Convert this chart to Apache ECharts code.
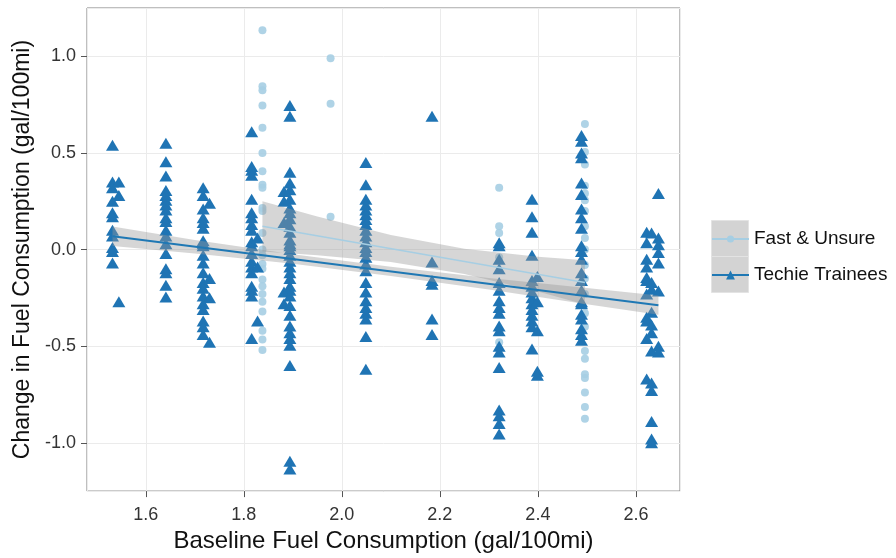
<!DOCTYPE html>
<html>
<head>
<meta charset="utf-8">
<script src="https://cdn.jsdelivr.net/npm/echarts@6/dist/echarts.min.js"></script>
<style>
  html, body { margin: 0; padding: 0; background: #fff; }
  #chart { width: 896px; height: 558px; }
</style>
</head>
<body>
<div id="chart"></div>
<script>
  // baseline fuel consumption columns and the change values
  const techieX = [1.532, 1.545, 1.641, 1.717, 1.73, 1.816, 1.828, 1.882, 1.894, 2.049, 2.184, 2.321, 2.388, 2.399, 2.489, 2.622, 2.632, 2.646]
  const techieY = [
    [0.54, 0.35, 0.32, 0.25, 0.19, 0.17, 0.10, 0.07, 0.01, -0.01, -0.07],
    [0.35, 0.28, -0.27],
    [0.55, 0.455, 0.38, 0.305, 0.28, 0.255, 0.23, 0.205, 0.165, 0.145, 0.10, 0.07, 0.03, -0.02, -0.10, -0.12, -0.185, -0.245],
    [0.32, 0.28, 0.21, 0.165, 0.14, 0.11, 0.045, 0.02, 0.03, -0.03, -0.07, -0.12, -0.17, -0.20, -0.24, -0.28, -0.31, -0.37, -0.40, -0.44],
    [0.24, -0.15, -0.25, -0.48],
    [0.61, 0.43, 0.41, 0.385, 0.26, 0.19, 0.165, 0.13, 0.10, 0.04, 0.02, -0.02, -0.06, -0.09, -0.12, -0.19, -0.21, -0.24, -0.46],
    [0.06, -0.09, -0.37],
    [0.30, 0.25, 0.14, -0.22, -0.28],
    [0.746, 0.69, 0.40, 0.345, 0.31, 0.26, 0.215, 0.19, 0.16, 0.12, 0.09, 0.05, 0.02, 0.03, 0.00, -0.03, -0.06, -0.09, -0.12, -0.15, -0.19, -0.21, -0.24, -0.29, -0.34, -0.395, -0.43, -0.46, -0.495, -0.60, -1.095, -1.135],
    [0.45, 0.335, 0.26, 0.23, 0.205, 0.18, 0.155, 0.13, 0.10, 0.07, 0.04, 0.01, -0.01, -0.04, -0.075, -0.11, -0.17, -0.22, -0.265, -0.30, -0.33, -0.36, -0.45, -0.62],
    [0.69, -0.065, -0.16, -0.18, -0.36, -0.44],
    [0.02, 0.035, -0.05, -0.10, -0.17, -0.21, -0.265, -0.30, -0.33, -0.395, -0.42, -0.50, -0.53, -0.61, -0.83, -0.86, -0.90, -0.955],
    [0.26, 0.17, 0.09, -0.03, -0.16, -0.19, -0.22, -0.25, -0.28, -0.31, -0.34, -0.37, -0.40, -0.515],
    [-0.14, -0.27, -0.42, -0.63, -0.65],
    [0.59, 0.56, 0.50, 0.475, 0.345, 0.285, 0.21, 0.165, 0.11, 0.02, -0.01, -0.05, -0.12, -0.16, -0.21, -0.27, -0.28, -0.335, -0.36, -0.41, -0.44, -0.47],
    [0.09, 0.035, -0.05, -0.09, -0.145, -0.16, -0.23, -0.35, -0.37, -0.46, -0.67],
    [0.085, -0.17, -0.205, -0.325, -0.39, -0.43, -0.525, -0.69, -0.73, -0.89, -0.98, -1.0],
    [0.29, 0.06, 0.025, -0.015, -0.07, -0.215, -0.50, -0.53]
  ]

  const fastX = [1.838, 1.977, 2.321, 2.496]
  const fastY = [
    [1.135, 0.845, 0.825, 0.745, 0.63, 0.50, 0.405, 0.335, 0.32, 0.215, 0.20, 0.085, 0.0, -0.03, -0.075, -0.10, -0.155, -0.19, -0.23, -0.27, -0.32, -0.42, -0.465, -0.52],
    [0.99, 0.755, 0.17],
    [0.32, 0.12, 0.085, -0.04, -0.48],
    [0.65, 0.505, 0.44, 0.33, 0.29, 0.255, 0.20, 0.12, 0.06, 0.0, -0.08, -0.15, -0.23, -0.33, -0.40, -0.525, -0.565, -0.645, -0.665, -0.74, -0.815, -0.875]
  ]

  // fitted lines and their confidence bands
  const techieLineX = [1.532, 2.646]
  const techieLineY = [0.069, -0.288]
  const techieBandX = [1.532, 1.7, 1.9, 2.1, 2.3, 2.5, 2.646]
  const techieUpper = [0.119, 0.050, -0.024, -0.089, -0.147, -0.199, -0.238]
  const techieLower = [0.019, -0.020, -0.074, -0.137, -0.207, -0.283, -0.338]

  const fastLineX = [1.838, 2.496]
  const fastLineY = [0.12, -0.17]
  const fastBandX = [1.838, 1.95, 2.1, 2.25, 2.4, 2.496]
  const fastUpper = [0.25, 0.171, 0.075, 0.004, -0.037, -0.055]
  const fastLower = [-0.01, -0.029, -0.065, -0.126, -0.217, -0.285]

  const FONT = "'Liberation Sans', Arial, sans-serif"

  const toPoints = (xs, ys) => xs.flatMap((x, i) => ys[i].map(y => [x, y]))
  const zipLine = (xs, ys) => xs.map((x, i) => [x, ys[i]])

  const bandSeries = (xs, lo, hi) => ({
    type: 'custom',
    silent: true,
    z: 3,
    data: xs.map((x, i) => [x, lo[i], hi[i]]),
    renderItem: (params, api) => {
      if (params.dataIndex !== 0) return null
      const top = xs.map((x, i) => api.coord([x, hi[i]]))
      const bottom = xs.map((x, i) => api.coord([x, lo[i]])).reverse()
      return {
        type: 'polygon',
        shape: { points: top.concat(bottom) },
        style: { fill: 'rgba(153,153,153,0.4)' }
      }
    }
  })

  const legendText = { fontFamily: FONT, fontSize: 19, color: '#111', lineHeight: 22 }

  const chart = echarts.init(document.getElementById('chart'))

  const option = {
    animation: false,
    grid: {
      left: 87,
      top: 8,
      right: 216,
      bottom: 66,
      show: true,
      borderColor: '#7f7f7f',
      borderWidth: 1,
      backgroundColor: '#fff'
    },
    xAxis: {
      type: 'value',
      min: 1.48,
      max: 2.69,
      splitNumber: 6,
      name: 'Baseline Fuel Consumption (gal/100mi)',
      nameLocation: 'middle',
      nameGap: 37,
      nameTextStyle: { fontFamily: FONT, fontSize: 24, color: '#111' },
      axisLine: { show: false, onZero: false },
      axisTick: { show: true, length: 6, lineStyle: { color: '#555' } },
      axisLabel: {
        fontFamily: FONT,
        fontSize: 18,
        color: '#333',
        margin: 15,
        showMinLabel: false,
        showMaxLabel: false,
        formatter: v => v.toFixed(1)
      },
      splitLine: { show: true, lineStyle: { color: '#ebebeb' } }
    },
    yAxis: {
      type: 'value',
      min: -1.25,
      max: 1.25,
      splitNumber: 5,
      name: 'Change in Fuel Consumption (gal/100mi)',
      nameLocation: 'middle',
      nameRotate: 90,
      nameGap: 53,
      nameTextStyle: { fontFamily: FONT, fontSize: 23, color: '#111' },
      axisLine: { show: false, onZero: false },
      axisTick: { show: true, length: 6, lineStyle: { color: '#555' } },
      axisLabel: {
        fontFamily: FONT,
        fontSize: 18,
        color: '#333',
        margin: 11,
        showMinLabel: false,
        showMaxLabel: false,
        formatter: v => v.toFixed(1)
      },
      splitLine: { show: true, lineStyle: { color: '#ebebeb' } }
    },
    legend: [
      {
        data: ['Fast & Unsure'],
        left: 711,
        top: 228,
        padding: 0,
        itemWidth: 37,
        itemHeight: 9,
        itemGap: 0,
        textStyle: legendText
      },
      {
        data: ['Techie Trainees'],
        left: 711,
        top: 264,
        padding: 0,
        itemWidth: 37,
        itemHeight: 11,
        itemGap: 0,
        textStyle: legendText
      }
    ],
    graphic: [
      { type: 'rect', left: 711, top: 220, shape: { width: 37, height: 36 }, style: { fill: '#d3d3d3', stroke: '#e3e3e3', lineWidth: 1 } },
      { type: 'rect', left: 711, top: 256, shape: { width: 37, height: 36 }, style: { fill: '#d3d3d3', stroke: '#e3e3e3', lineWidth: 1 } }
    ],
    series: [
      {
        name: 'Fast & Unsure',
        type: 'line',
        z: 4,
        data: zipLine(fastLineX, fastLineY),
        symbol: 'circle',
        symbolSize: 7,
        showSymbol: false,
        silent: true,
        itemStyle: { color: '#a6cee3' },
        lineStyle: { color: '#a6cee3', width: 1.5 }
      },
      {
        name: 'Techie Trainees',
        type: 'line',
        z: 4,
        data: zipLine(techieLineX, techieLineY),
        symbol: 'triangle',
        symbolSize: 9,
        showSymbol: false,
        silent: true,
        itemStyle: { color: '#1f78b4' },
        lineStyle: { color: '#1f78b4', width: 2 }
      },
      {
        name: 'Fast & Unsure',
        type: 'scatter',
        z: 2,
        data: toPoints(fastX, fastY),
        symbol: 'circle',
        symbolSize: 8,
        itemStyle: { color: '#a6cee3', opacity: 0.9 }
      },
      {
        name: 'Techie Trainees',
        type: 'scatter',
        z: 2,
        data: toPoints(techieX, techieY),
        symbol: 'triangle',
        symbolSize: [13, 11],
        itemStyle: { color: '#1f74b4', opacity: 1 }
      },
      bandSeries(techieBandX, techieLower, techieUpper),
      bandSeries(fastBandX, fastLower, fastUpper)
    ]
  }

  chart.setOption(option)
</script>
</body>
</html>
